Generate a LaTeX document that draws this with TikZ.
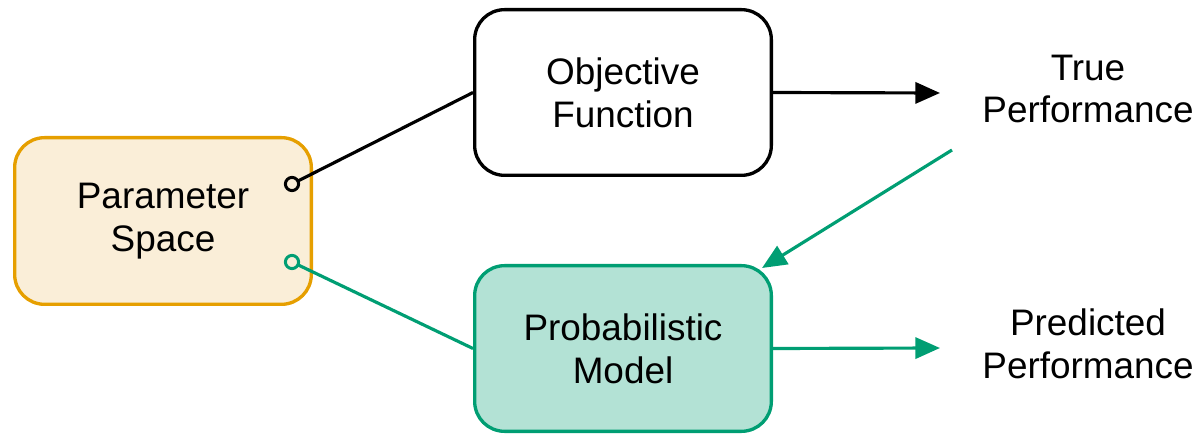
\documentclass[tikz,border=0pt]{standalone}
\usepackage{fontspec}
\setmainfont{Liberation Sans}
\usetikzlibrary{arrows.meta}
\definecolor{okgreen}{HTML}{009E73}
\definecolor{okorange}{HTML}{E69F00}
\definecolor{lightgreen}{HTML}{B3E2D5}
\definecolor{lightorange}{HTML}{FAEED8}
\tikzset{
  box/.style={draw, line width=1.9pt, rounded corners=17pt, minimum width=300*0.02cm-1.9pt,
    minimum height=169*0.02cm-1.9pt, align=center, inner sep=0pt},
  lbl/.style={align=center, inner sep=0pt},
  conn/.style={line width=1.8pt},
  arr/.style={conn, -{Triangle[length=14pt, width=12pt]}},
  dot/.style={circle, draw, line width=1.7pt, minimum size=7.5pt, inner sep=0pt}
}
\begin{document}
\begin{tikzpicture}[x=0.02cm, y=-0.02cm,
  font=\fontsize{21pt}{24.4pt}\selectfont]
\useasboundingbox (0,0) rectangle (1203,435);

% boxes
\node[box, draw=okorange, fill=lightorange, minimum height=170*0.02cm-1.9pt] (ps) at (163,221) {Parameter\\Space};
\node[box, draw=black, fill=white] (obj) at (623,92.5) {Objective\\Function};
\node[box, draw=okgreen, fill=lightgreen] (pm) at (623,348.5) {Probabilistic\\Model};

% outputs
\node[lbl] (tp) at (1088,89) {True\\Performance};
\node[lbl] (pp) at (1088,344) {Predicted\\Performance};

% connector ends
\coordinate (ps-obj) at (292,184);
\coordinate (ps-pm) at (292,262);
\coordinate (tp-in) at (940,93);
\coordinate (pp-in) at (940,348);
\coordinate (tp-out) at (952,150);
\coordinate (pm-in) at (762,268);

% parameter space feeds both
\draw[conn] (ps-obj) -- (obj.west);
\draw[conn, okgreen] (ps-pm) -- (pm.west);
\node[dot, draw=black, fill=lightorange] at (ps-obj) {};
\node[dot, draw=okgreen, fill=lightorange] at (ps-pm) {};

% outputs
\draw[arr] (obj.east) -- (tp-in);
\draw[arr, okgreen] (pm.east) -- (pp-in);
\draw[arr, okgreen] (tp-out) -- (pm-in);
\end{tikzpicture}
\end{document}
